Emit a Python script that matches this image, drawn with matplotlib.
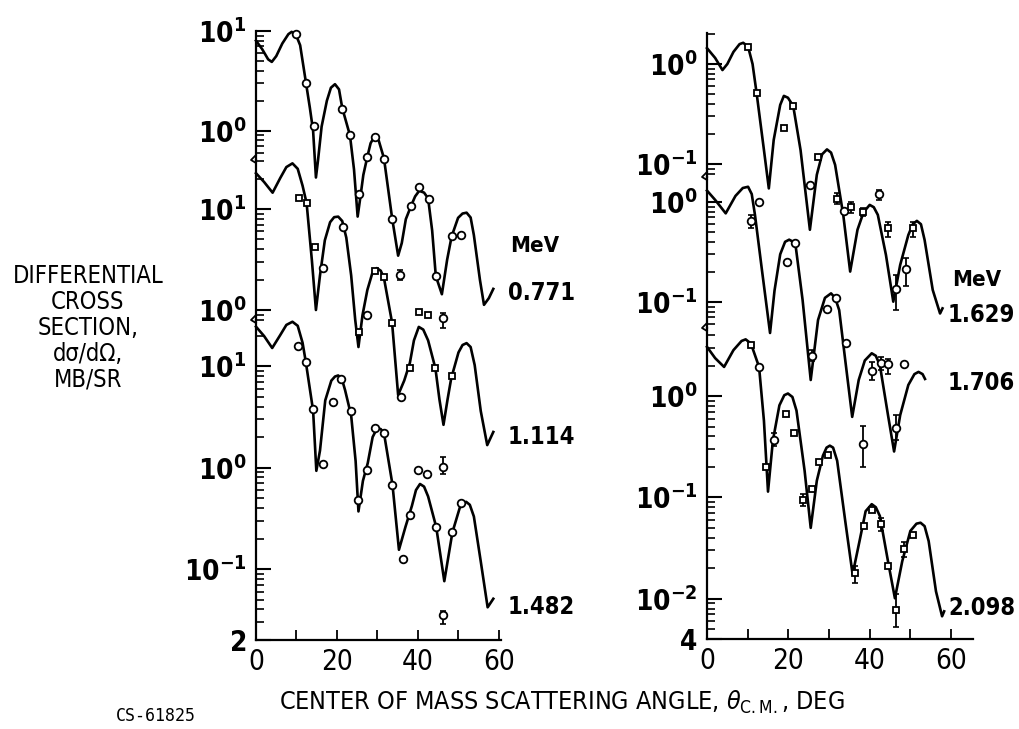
import matplotlib
matplotlib.use("Agg")
import matplotlib.pyplot as plt
import matplotlib.transforms as mtransforms
from matplotlib.ticker import LogLocator, NullFormatter

# ---------------- data ----------------
# fitted curves (angle deg, cross section mb/sr)
fit771_ang = [0, 1.5, 3.0, 3.9, 5.0, 6.5, 8.0, 8.8, 9.8, 10.9, 12.3, 13.3, 14.1, 14.8, 15.3, 16.2, 17.5,
              18.5, 19.5, 20.5, 21.3, 23.2, 24.2, 25.1, 25.8, 26.5, 27.5, 28.3, 29.2, 30.3, 31.6, 33.6,
              35.1, 36.0, 37.0, 38.3, 39.3, 40.3, 41.5, 42.5, 43.5, 44.4, 45.9, 47.2, 48.3, 49.9, 51.0,
              52.0, 53.0, 53.8, 55.3, 56.3, 57.5, 58.6]
fit771_val = [8.0, 6.6, 5.2, 4.9, 5.6, 7.5, 9.3, 9.8, 9.3, 7.2, 3.1, 1.7, 1.0, 0.34, 0.5, 1.1, 2.0,
              2.7, 2.93, 2.6, 1.69, 0.9, 0.41, 0.138, 0.22, 0.36, 0.55, 0.75, 0.87, 0.8, 0.53, 0.134,
              0.056, 0.075, 0.13, 0.177, 0.22, 0.25, 0.24, 0.21, 0.1, 0.035, 0.023, 0.051, 0.087, 0.134, 0.148,
              0.151, 0.135, 0.09, 0.032, 0.018, 0.021, 0.026]

fit1114_ang = [0, 2, 4.1, 6, 7.5, 9.0, 10.3, 11.5, 12.5, 13.8, 14.8, 15.8, 17.0, 18.3, 19.3, 20.3, 21.3,
               22.3, 23.5, 24.5, 25.3, 26.3, 27.5, 28.7, 29.8, 30.8, 31.6, 33.6, 35.1, 36.6, 38.0, 39.0,
               40.2, 41.3, 42.5, 44.3, 45.3, 46.3, 47.3, 48.2, 50.0, 51.0, 52.0, 53.0, 54.0, 55.5, 57.1, 58.6]
fit1114_val = [22.6, 18.5, 14.5, 20.3, 26, 28.3, 25, 17, 11.4, 3.1, 1.0, 2.2, 4.9, 7.4, 8.3, 8.4, 7.6,
               5.2, 2.2, 0.8, 0.43, 0.89, 1.58, 2.3, 2.6, 2.45, 2.07, 0.75, 0.144, 0.2, 0.3, 0.5,
               0.68, 0.64, 0.5, 0.265, 0.13, 0.073, 0.13, 0.21, 0.38, 0.45, 0.47, 0.43, 0.285, 0.1, 0.046, 0.062]

fit1482_ang = [0, 2, 4.0, 6, 7.5, 9.0, 10.3, 11.5, 12.3, 14.1, 14.9, 15.8, 17.1, 18.6, 19.5, 20.3, 21.2,
               22, 23.5, 24.6, 25.3, 26.4, 27.6, 28.8, 29.9, 30.8, 31.6, 33.7, 35.3, 36.9, 38.5, 39.5,
               40.5, 41.5, 42.5, 44.5, 46.5, 48.5, 50.3, 51.1, 51.9, 52.8, 53.8, 55.5, 57.2, 58.6]
fit1482_val = [24.5, 19.8, 15.1, 20.3, 25.5, 27.4, 25, 17, 11.0, 3.65, 0.93, 1.47, 4.6, 7.2, 7.9, 8.1, 7.5,
               5.8, 3.26, 1.16, 0.37, 0.74, 1.11, 2.0, 2.44, 2.4, 2.19, 0.68, 0.155, 0.26, 0.42, 0.6,
               0.69, 0.65, 0.52, 0.26, 0.076, 0.23, 0.4, 0.44, 0.46, 0.43, 0.33, 0.119, 0.042, 0.051]

fit1629_ang = [0, 2, 3.8, 5, 6.5, 8.0, 8.9, 10.1, 11.2, 12.2, 14.0, 15.2, 16.4, 18.0, 18.9, 19.9, 21.2,
               23.0, 25.3, 27.0, 28.3, 29.5, 30.5, 31.5, 33.5, 35.2, 37.0, 38.5, 40.0, 41.0, 42.0, 44.0,
               45.8, 47.5, 49.5, 50.6, 51.6, 52.6, 53.5, 55.5, 57.3, 57.9]
fit1629_val = [1.44, 1.15, 0.87, 1.0, 1.32, 1.58, 1.63, 1.49, 1.0, 0.51, 0.138, 0.057, 0.174, 0.39, 0.48,
               0.46, 0.38, 0.138, 0.022, 0.078, 0.125, 0.14, 0.13, 0.098, 0.031, 0.0084, 0.022, 0.033,
               0.039, 0.037, 0.031, 0.0123, 0.0042, 0.0098, 0.0195, 0.025, 0.027, 0.025, 0.0174, 0.0055,
               0.0032, 0.0036]

fit1706_ang = [0, 2, 4.6, 7, 8.8, 10.1, 11.0, 11.8, 13.5, 15.5, 16.6, 18.0, 19.2, 20.2, 21.7, 23.5, 25.5,
               27.3, 29.0, 30.5, 31.5, 32.5, 34, 35.7, 37.3, 38.8, 40.5, 41.5, 42.5, 44.5, 46.0, 47.5,
               49.5, 51.0, 52.0, 53.0, 53.6]
fit1706_val = [1.30, 1.05, 0.77, 1.15, 1.38, 1.42, 1.2, 0.74, 0.21, 0.049, 0.13, 0.3, 0.4, 0.42, 0.39,
               0.105, 0.0166, 0.066, 0.11, 0.122, 0.11, 0.083, 0.026, 0.0071, 0.0166, 0.026, 0.0307,
               0.029, 0.0234, 0.0074, 0.0032, 0.0074, 0.0148, 0.019, 0.020, 0.019, 0.017]

fit2098_ang = [0, 2, 4.2, 6.5, 8.5, 9.5, 10.8, 12.8, 14.0, 15.0, 16.2, 17.8, 19.0, 19.9, 21.0, 22, 24,
               25.5, 27, 28.5, 29.4, 30.2, 31.0, 32, 34, 35.8, 37.5, 39, 40.5, 41.5, 42.5, 44.5, 46.2,
               48, 50, 51.5, 52.5, 53.5, 54.5, 56.3, 57.8, 58.3]
fit2098_val = [3.06, 2.37, 1.94, 2.84, 3.5, 3.63, 3.3, 1.94, 0.57, 0.114, 0.364, 0.81, 1.02, 1.06, 0.98,
               0.72, 0.183, 0.05, 0.146, 0.258, 0.31, 0.324, 0.31, 0.23, 0.058, 0.0174, 0.037, 0.073,
               0.0857, 0.08, 0.0655, 0.0234, 0.0101, 0.0234, 0.0466, 0.055, 0.0562, 0.052, 0.037,
               0.0118, 0.0067, 0.0075]

# measured points: circles and squares, plus points carrying error bars (lo, hi)
c771_ang = [10.0, 12.3, 14.2, 21.3, 23.2, 25.5, 27.5, 29.4, 31.6, 33.7, 38.3, 40.3, 42.6, 44.4, 48.3, 50.6]
c771_val = [9.3, 3.0, 1.11, 1.67, 0.9, 0.23, 0.54, 0.86, 0.52, 0.13, 0.177, 0.27, 0.209, 0.035, 0.089, 0.09]

c1114_ang = [16.5, 21.4, 27.5, 35.8]
c1114_val = [2.6, 6.7, 0.89, 0.139]
s1114_ang = [10.6, 12.5, 14.6, 25.5, 29.3, 31.6, 33.7, 38.0, 40.3, 42.5, 44.3, 48.5]
s1114_val = [12.8, 11.4, 4.2, 0.61, 2.45, 2.1, 0.75, 0.265, 0.95, 0.89, 0.265, 0.22]
ec1114_ang = [35.6, 46.3]
ec1114_val = [2.2, 0.83]
ec1114_lo = [1.96, 0.66]
ec1114_hi = [2.47, 0.93]

c1482_ang = [10.4, 12.4, 14.0, 16.5, 19.1, 21.0, 23.4, 25.3, 27.5, 29.4, 31.6, 33.6, 36.2, 38.1, 40.1,
             42.3, 44.4, 48.5, 50.5]
c1482_val = [15.7, 11.0, 3.8, 1.08, 4.4, 7.4, 3.65, 0.475, 0.94, 2.44, 2.19, 0.68, 0.126, 0.345, 0.95,
             0.86, 0.26, 0.23, 0.45]
ec1482_ang = [46.3, 46.3]
ec1482_val = [1.02, 0.035]
ec1482_lo = [0.86, 0.029]
ec1482_hi = [1.26, 0.039]

c1629_ang = [25.3, 33.8]
c1629_val = [0.062, 0.034]
s1629_ang = [10.1, 12.2, 19.0, 21.1, 27.4]
s1629_val = [1.49, 0.51, 0.23, 0.38, 0.117]
ec1629_ang = [42.4, 46.5, 48.9]
ec1629_val = [0.05, 0.0056, 0.009]
ec1629_lo = [0.044, 0.0035, 0.006]
ec1629_hi = [0.055, 0.0078, 0.0114]
es1629_ang = [31.9, 35.4, 38.4, 44.4, 50.6]
es1629_val = [0.045, 0.037, 0.033, 0.023, 0.0228]
es1629_lo = [0.040, 0.032, 0.030, 0.0186, 0.0186]
es1629_hi = [0.051, 0.042, 0.036, 0.0265, 0.0265]

c1706_ang = [12.9, 19.6, 21.6, 29.6, 31.7, 34.2, 48.5]
c1706_val = [1.0, 0.25, 0.39, 0.086, 0.109, 0.039, 0.024]
ec1706_ang = [10.8, 25.7, 38.4, 40.6, 42.8, 44.6, 46.5]
ec1706_val = [0.65, 0.029, 0.0038, 0.0206, 0.0244, 0.0238, 0.0055]
ec1706_lo = [0.55, 0.026, 0.00225, 0.0166, 0.021, 0.019, 0.0042]
ec1706_hi = [0.74, 0.033, 0.0057, 0.0254, 0.028, 0.0268, 0.0074]

c2098_ang = [12.9]
c2098_val = [1.94]
s2098_ang = [10.8, 14.5, 19.4, 21.4, 25.7, 27.6, 29.8, 38.6, 40.5, 44.4, 50.6]
s2098_val = [3.18, 0.2, 0.66, 0.43, 0.12, 0.225, 0.26, 0.052, 0.075, 0.021, 0.043]
ec2098_ang = [16.5]
ec2098_val = [0.37]
ec2098_lo = [0.32]
ec2098_hi = [0.43]
es2098_ang = [23.5, 36.4, 42.8, 46.5, 48.5]
es2098_val = [0.094, 0.018, 0.055, 0.0078, 0.031]
es2098_lo = [0.082, 0.0143, 0.047, 0.0053, 0.026]
es2098_hi = [0.108, 0.021, 0.063, 0.011, 0.036]

energies_left = ["0.771", "1.114", "1.482"]
energies_right = ["1.629", "1.706", "2.098"]

# ---------------- fonts (condensed look of the scan) ----------------
plt.rcParams["font.family"] = ["DejaVu Sans"]
plt.rcParams["font.stretch"] = "condensed"
plt.rcParams["mathtext.fontset"] = "custom"
plt.rcParams["mathtext.rm"] = "DejaVu Sans"
plt.rcParams["mathtext.it"] = "DejaVu Sans:italic"
plt.rcParams["mathtext.bf"] = "DejaVu Sans:bold"

W, H = 1020, 729
fig = plt.figure(figsize=(W / 100, H / 100), dpi=100)


def rect(x0, x1, y0, y1):
    return [x0 / W, 1 - y1 / H, (x1 - x0) / W, (y1 - y0) / H]


def make_ax(r, ylim, xmax, ticks, labels, bottom=False, brk=True):
    ax = fig.add_axes(r)
    ax.patch.set_visible(False)
    ax.set_yscale("log")
    ax.set_ylim(*ylim)
    ax.set_xlim(0, xmax)
    for s in ("top", "right"):
        ax.spines[s].set_visible(False)
    ax.spines["bottom"].set_visible(bottom)
    for s in ax.spines.values():
        s.set_linewidth(1.6)
    ax.set_yticks(ticks, labels)
    ax.yaxis.set_minor_locator(LogLocator(base=10, subs=range(2, 10), numticks=20))
    ax.yaxis.set_minor_formatter(NullFormatter())
    ax.tick_params(axis="y", which="major", direction="in", length=11, width=1.5, pad=7,
                   labelsize=20)
    ax.tick_params(axis="y", which="minor", direction="in", length=6, width=1.2)
    for t in ax.get_yticklabels():
        t.set_fontweight("bold")
    if bottom:
        ax.set_xticks([0, 20, 40, 60], ["0", "20", "40", "60"])
        ax.set_xticks([10, 30, 50], minor=True)
        ax.tick_params(axis="x", which="both", direction="in", length=7, width=1.3, pad=6,
                       labelsize=20)
    else:
        ax.set_xticks([])
        ax.set_xticks([], minor=True)
    if brk:
        tr = fig.dpi_scale_trans + mtransforms.ScaledTranslation(0, 0, ax.transAxes)
        ax.plot([0, -0.05, 0.0], [0.05, 0.0, -0.03], transform=tr, color="black", lw=1.3,
                clip_on=False)
    return ax


def lab(p):
    return r"$\mathbf{10^{%d}}$" % p


def curve(ax, ang, val):
    ax.plot(ang, val, color="black", lw=1.9, clip_on=False, solid_joinstyle="round")


def pts(ax, ang, val, mk):
    ax.plot(ang, val, ls="none", marker=mk, ms=5.5 if mk == "o" else 5, mfc="white",
            mec="black", mew=1.3, clip_on=False, zorder=4)


def epts(ax, ang, val, lo, hi, mk):
    yerr = [[v - l for v, l in zip(val, lo)], [h - v for v, h in zip(val, hi)]]
    ax.errorbar(ang, val, yerr=yerr, fmt="none", ecolor="black", elinewidth=1.3, capsize=2,
                capthick=1.2, clip_on=False, zorder=3)
    pts(ax, ang, val, mk)


# ---------------- left panel ----------------
LX0, LX1, LXM = 256, 501, 60.5
ax_l1 = make_ax(rect(LX0, LX1, 31, 160), (10 ** -0.293, 10), LXM, [1, 10], [lab(0), lab(1)])
ax_l2 = make_ax(rect(LX0, LX1, 160, 320), (10 ** -0.099, 10 ** 1.485), LXM, [1, 10], [lab(0), lab(1)])
ax_l3 = make_ax(rect(LX0, LX1, 320, 640), (0.02, 10 ** 1.455), LXM, [0.02, 0.1, 1, 10],
                [r"$\mathbf{2}$", lab(-1), lab(0), lab(1)], bottom=True, brk=False)

curve(ax_l1, fit771_ang, fit771_val)
pts(ax_l1, c771_ang, c771_val, "o")

curve(ax_l2, fit1114_ang, fit1114_val)
pts(ax_l2, c1114_ang, c1114_val, "o")
pts(ax_l2, s1114_ang, s1114_val, "s")
epts(ax_l2, ec1114_ang, ec1114_val, ec1114_lo, ec1114_hi, "o")

curve(ax_l3, fit1482_ang, fit1482_val)
pts(ax_l3, c1482_ang, c1482_val, "o")
epts(ax_l3, ec1482_ang, ec1482_val, ec1482_lo, ec1482_hi, "o")

# ---------------- right panel ----------------
RX0, RX1, RXM = 707, 973, 65.4
ax_r1 = make_ax(rect(RX0, RX1, 33, 177), (10 ** -1.13, 10 ** 0.31), RXM, [0.1, 1], [lab(-1), lab(0)])
ax_r2 = make_ax(rect(RX0, RX1, 177, 328), (10 ** -1.26, 10 ** 0.25), RXM, [0.1, 1], [lab(-1), lab(0)])
ax_r3 = make_ax(rect(RX0, RX1, 328, 639), (0.004, 10 ** 0.672), RXM, [0.004, 0.01, 0.1, 1],
                [r"$\mathbf{4}$", lab(-2), lab(-1), lab(0)], bottom=True, brk=False)

curve(ax_r1, fit1629_ang, fit1629_val)
pts(ax_r1, c1629_ang, c1629_val, "o")
pts(ax_r1, s1629_ang, s1629_val, "s")
epts(ax_r1, ec1629_ang, ec1629_val, ec1629_lo, ec1629_hi, "o")
epts(ax_r1, es1629_ang, es1629_val, es1629_lo, es1629_hi, "s")

curve(ax_r2, fit1706_ang, fit1706_val)
pts(ax_r2, c1706_ang, c1706_val, "o")
epts(ax_r2, ec1706_ang, ec1706_val, ec1706_lo, ec1706_hi, "o")

curve(ax_r3, fit2098_ang, fit2098_val)
pts(ax_r3, c2098_ang, c2098_val, "o")
pts(ax_r3, s2098_ang, s2098_val, "s")
epts(ax_r3, ec2098_ang, ec2098_val, ec2098_lo, ec2098_hi, "o")
epts(ax_r3, es2098_ang, es2098_val, es2098_lo, es2098_hi, "s")

# ---------------- texts ----------------
def ftext(x, y, s, **kw):
    fig.text(x / W, 1 - y / H, s, **kw)


ftext(510, 246, "MeV", fontsize=16, weight="bold", va="center")
for s, y in zip(energies_left, [293, 437, 607]):
    ftext(508, y, s, fontsize=17, weight="bold", va="center")
ftext(952, 280, "MeV", fontsize=16, weight="bold", va="center")
for s, y in zip(energies_right, [315, 383, 608]):
    ftext(948, y, s, fontsize=17, weight="bold", va="center")

ftext(88, 328, "DIFFERENTIAL\nCROSS\nSECTION,\ndσ/dΩ,\nMB/SR", fontsize=17, ha="center",
      va="center", linespacing=1.1)
ftext(562, 702, r"CENTER OF MASS SCATTERING ANGLE, $\theta_{\mathrm{C.M.}}$, DEG", fontsize=18,
      ha="center", va="center")
ftext(156, 716, "CS-61825", fontsize=12, ha="center", va="center", family="DejaVu Sans Mono",
      stretch="normal")

fig.savefig("out.png", dpi=100, facecolor="white")
